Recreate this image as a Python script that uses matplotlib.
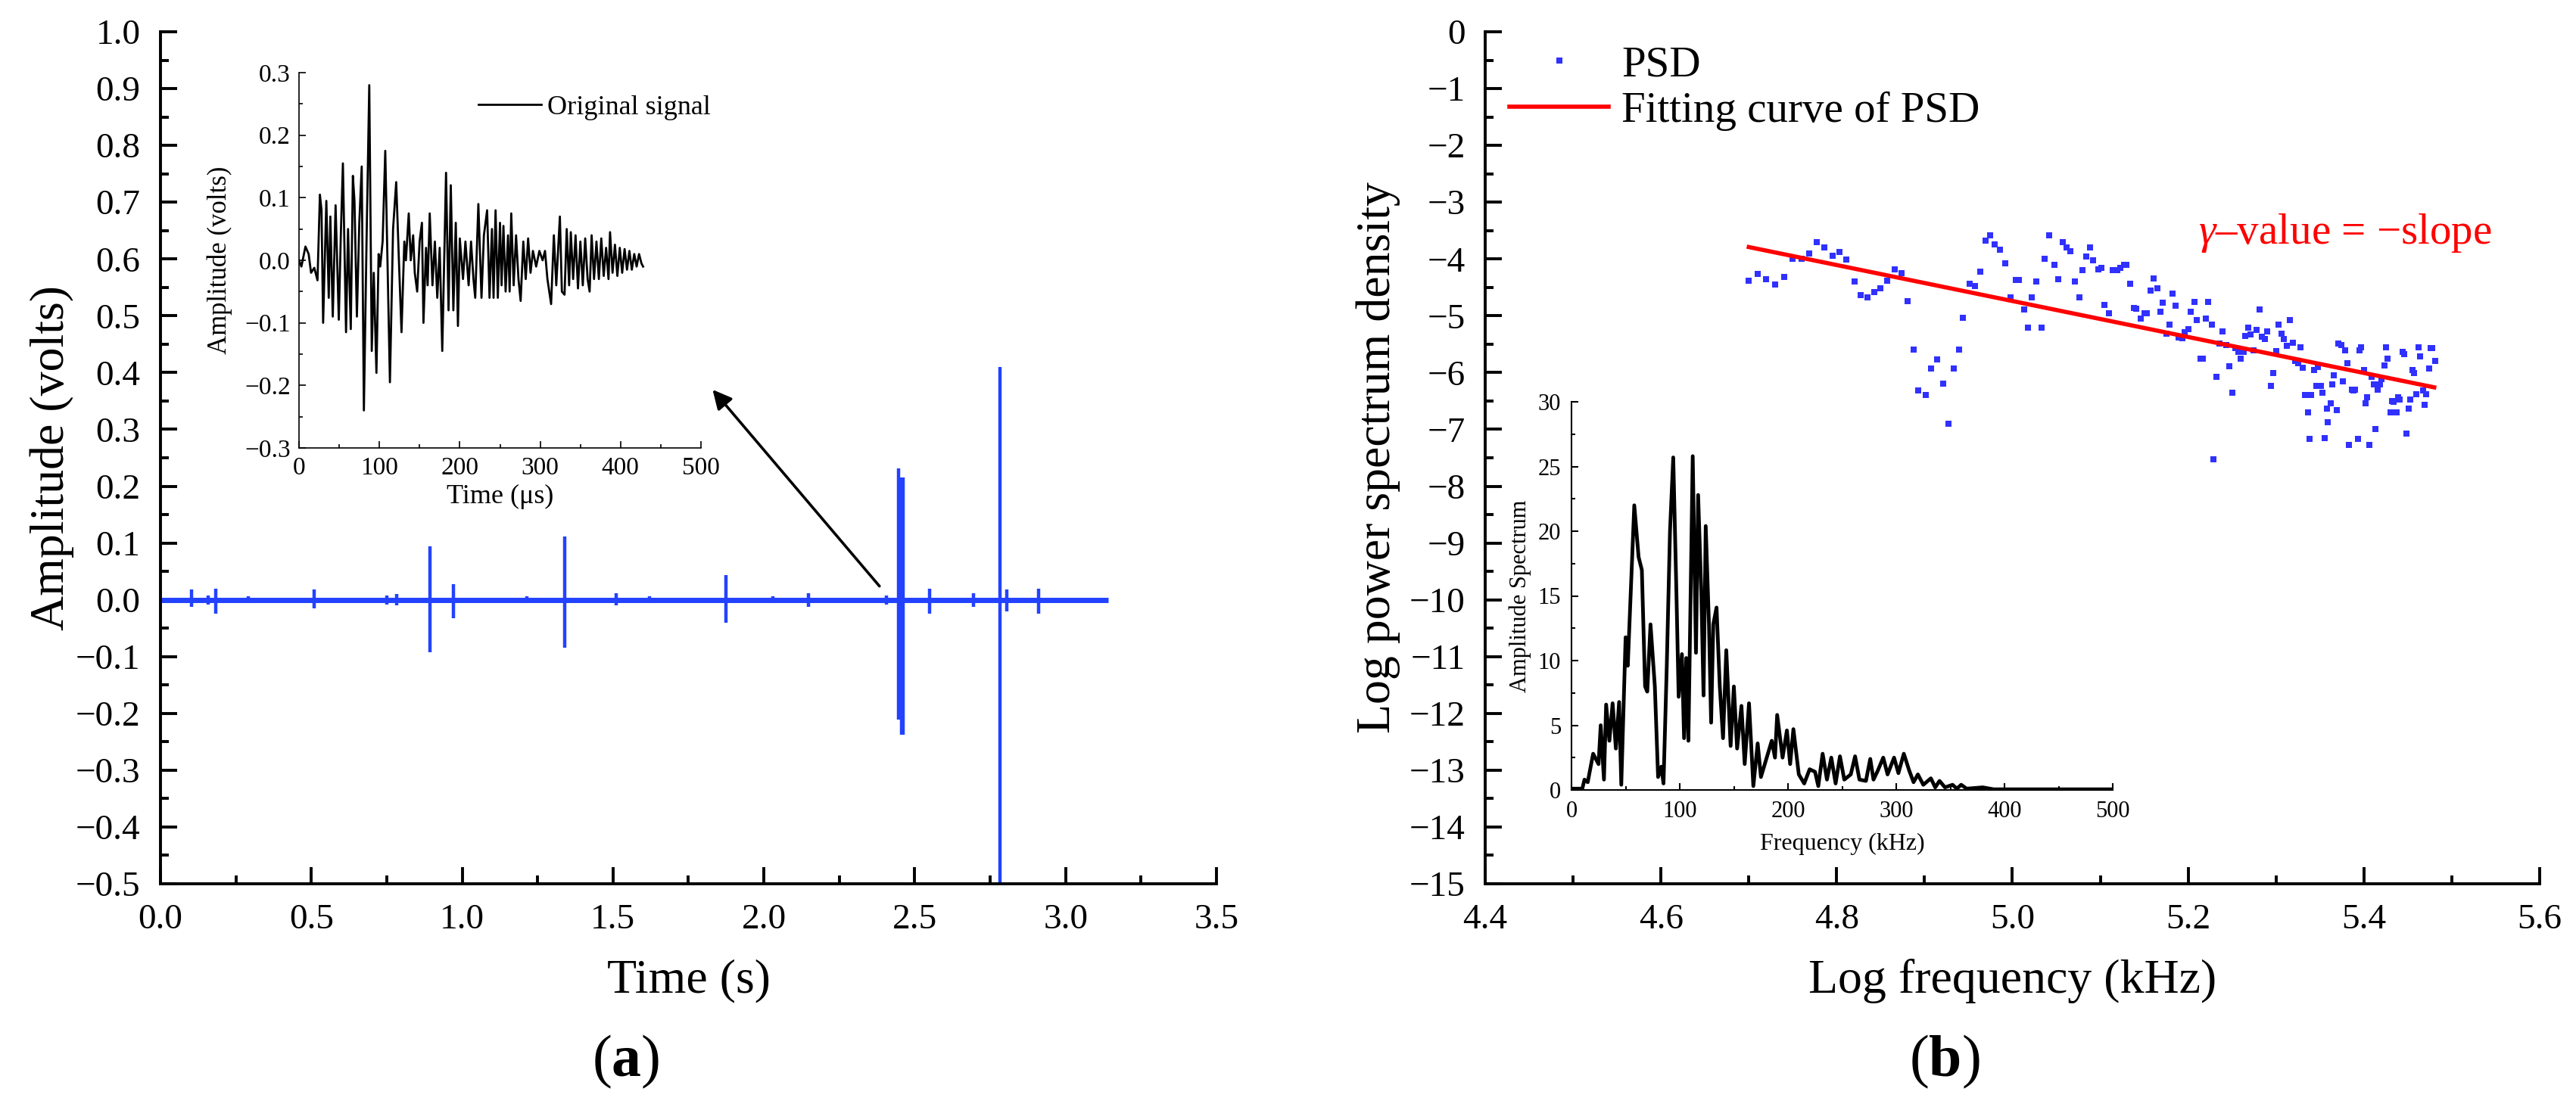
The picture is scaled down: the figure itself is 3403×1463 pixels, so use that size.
import numpy as np
import matplotlib
matplotlib.use('Agg')
import matplotlib.pyplot as plt
from matplotlib.ticker import MultipleLocator

plt.rcParams['font.family'] = ['Liberation Serif', 'DejaVu Serif']
plt.rcParams['mathtext.fontset'] = 'custom'
plt.rcParams['mathtext.rm'] = 'Liberation Serif'
plt.rcParams['mathtext.it'] = 'Liberation Serif:italic'
plt.rcParams['mathtext.bf'] = 'Liberation Serif:bold'
plt.rcParams['axes.unicode_minus'] = True

# ---------------- (a) main: AE signal bursts ----------------
signal_end = 3.14
burst_time = [0.104, 0.158, 0.183, 0.29, 0.51, 0.75, 0.784, 0.894, 0.97, 1.215,
              1.341, 1.51, 1.62, 1.875, 2.03, 2.147, 2.405, 2.447, 2.452, 2.457,
              2.462, 2.549, 2.695, 2.782, 2.805, 2.91]
burst_max = [0.018, 0.008, 0.020, 0.006, 0.018, 0.008, 0.010, 0.094, 0.027, 0.006,
             0.111, 0.012, 0.006, 0.043, 0.006, 0.012, 0.008, 0.231, 0.216, 0.216,
             0.216, 0.019, 0.012, 0.410, 0.018, 0.020]
burst_min = [-0.012, -0.008, -0.025, -0.006, -0.015, -0.008, -0.010, -0.092, -0.032, -0.006,
             -0.084, -0.010, -0.006, -0.041, -0.006, -0.012, -0.008, -0.211, -0.211, -0.237,
             -0.237, -0.025, -0.012, -0.550, -0.020, -0.025]

# ---------------- (a) inset: original waveform ----------------
wave_t = [0, 3, 8, 12, 15, 19, 23, 26, 28, 30, 34, 37, 39, 42, 45.5, 49.5, 52, 54.6, 58.5, 61,
          64.4, 67, 69, 72, 75, 78, 80.7, 84, 87.4, 90.5, 93, 96.3, 99, 101, 104, 107.3, 110,
          113.1, 117, 120.9, 124, 127.5, 131, 133, 136.5, 139, 142, 144, 147, 150, 152.9, 154.8,
          158, 160, 162.6, 166, 169, 172, 175, 178.2, 182.9, 186, 188.8, 192, 195, 197.7, 200,
          204, 207, 211, 214, 217, 219.2, 223.1, 227, 230, 234, 237, 240, 242, 244.5, 247.3, 250,
          252, 254.3, 257, 260, 262, 264, 267, 270, 273, 275.7, 279, 282, 285, 288, 291, 295, 299,
          303, 306, 309, 313.6, 317, 320, 324.5, 327, 330.3, 333, 336, 338.1, 341, 344, 347, 350,
          353, 356, 359, 361.5, 364, 367, 370, 373, 376, 379, 382, 385, 386.9, 390, 393, 396, 399,
          402, 405, 408, 411, 414, 417, 420, 423, 426, 428]
wave_v = [0.000, -0.010, 0.022, 0.010, -0.020, -0.012, -0.032, 0.105, 0.080, -0.100, 0.095,
          -0.060, 0.070, -0.090, 0.088, -0.095, 0.040, 0.155, -0.115, 0.050, -0.110, 0.135, 0.095,
          -0.090, 0.060, 0.150, -0.240, 0.030, 0.280, -0.145, -0.020, -0.180, 0.010, -0.010, 0.030,
          0.175, 0.000, -0.195, 0.050, 0.125, 0.010, -0.115, 0.030, 0.000, 0.075, 0.000, 0.040,
          -0.020, -0.050, 0.030, 0.060, -0.100, 0.020, -0.040, 0.075, -0.040, 0.030, -0.060, 0.020,
          -0.145, 0.140, -0.080, 0.120, -0.080, 0.060, -0.105, 0.035, -0.030, 0.030, -0.040, 0.030,
          -0.030, -0.060, 0.090, -0.060, 0.040, 0.080, -0.060, 0.050, -0.060, 0.080, -0.060, 0.060,
          -0.040, 0.055, -0.050, 0.040, -0.050, 0.075, -0.040, 0.040, -0.030, -0.065, 0.030, -0.030,
          0.035, -0.020, 0.015, -0.010, 0.015, 0.000, 0.015, -0.030, -0.070, 0.040, -0.040, 0.070,
          -0.050, -0.055, 0.050, -0.040, 0.045, -0.030, 0.040, -0.045, 0.030, -0.040, 0.035, -0.030,
          -0.050, 0.040, -0.030, 0.030, -0.030, 0.035, -0.025, 0.020, -0.030, 0.045, -0.020, 0.025,
          -0.025, 0.020, -0.020, 0.018, -0.015, 0.015, -0.015, 0.010, -0.010, 0.010, -0.005, -0.010]

# ---------------- (b) main: PSD scatter + fit ----------------
psd_x = [4.700, 4.710, 4.720, 4.730, 4.740, 4.750, 4.760, 4.769, 4.777, 4.786, 4.795, 4.803,
         4.811, 4.820, 4.827, 4.835, 4.843, 4.850, 4.857, 4.866, 4.874, 4.881, 4.888, 4.893,
         4.901, 4.907, 4.914, 4.921, 4.927, 4.933, 4.939, 4.944, 4.951, 4.957, 4.963, 4.969,
         4.975, 4.980, 4.986, 4.992, 4.998, 5.004, 5.007, 5.013, 5.018, 5.022, 5.027, 5.033,
         5.037, 5.042, 5.048, 5.052, 5.057, 5.062, 5.066, 5.071, 5.076, 5.080, 5.084, 5.088,
         5.092, 5.098, 5.101, 5.105, 5.110, 5.114, 5.119, 5.123, 5.127, 5.130, 5.134, 5.138,
         5.141, 5.146, 5.150, 5.153, 5.157, 5.161, 5.165, 5.168, 5.171, 5.175, 5.179, 5.182,
         5.186, 5.189, 5.193, 5.196, 5.200, 5.203, 5.207, 5.210, 5.214, 5.217, 5.220, 5.223,
         5.227, 5.229, 5.232, 5.236, 5.239, 5.243, 5.247, 5.250, 5.254, 5.257, 5.260, 5.263,
         5.265, 5.268, 5.271, 5.274, 5.278, 5.281, 5.284, 5.287, 5.290, 5.294, 5.297, 5.300,
         5.303, 5.306, 5.309, 5.312, 5.316, 5.319, 5.322, 5.325, 5.328, 5.330, 5.333, 5.336,
         5.338, 5.340, 5.343, 5.346, 5.348, 5.351, 5.353, 5.355, 5.358, 5.359, 5.362, 5.364,
         5.366, 5.369, 5.371, 5.374, 5.376, 5.379, 5.381, 5.383, 5.386, 5.388, 5.390, 5.393,
         5.395, 5.397, 5.400, 5.402, 5.404, 5.406, 5.409, 5.411, 5.413, 5.416, 5.418, 5.420,
         5.423, 5.425, 5.427, 5.430, 5.432, 5.434, 5.437, 5.439, 5.441, 5.444, 5.446, 5.448,
         5.451, 5.453, 5.455, 5.457, 5.460, 5.462, 5.464, 5.467, 5.469, 5.471, 5.474, 5.476,
         5.478, 5.481]
psd_y = [-4.38, -4.26, -4.36, -4.45, -4.31, -4.00, -4.00, -3.90, -3.70, -3.79, -3.94, -3.87,
         -4.01, -4.39, -4.64, -4.67, -4.58, -4.51, -4.38, -4.18, -4.25, -4.74, -5.59, -6.32,
         -6.40, -5.93, -5.77, -6.20, -6.90, -5.93, -5.59, -5.03, -4.44, -4.48, -4.22, -3.68,
         -3.58, -3.74, -3.83, -4.07, -4.68, -4.37, -4.37, -4.89, -5.21, -4.67, -4.39, -5.21,
         -4.00, -3.58, -4.10, -4.36, -3.70, -3.80, -3.86, -4.40, -4.67, -4.20, -3.96, -3.79,
         -4.02, -4.18, -4.16, -4.81, -4.95, -4.20, -4.20, -4.16, -4.10, -4.10, -4.43, -4.86,
         -4.87, -5.05, -4.95, -4.95, -4.56, -4.34, -4.52, -4.93, -4.77, -5.32, -5.15, -4.61,
         -4.82, -5.38, -5.39, -5.29, -5.23, -4.93, -4.76, -5.07, -5.75, -5.75, -5.05, -4.76,
         -5.15, -7.52, -6.08, -5.49, -5.27, -5.51, -5.89, -6.36, -5.57, -5.63, -5.75, -5.63,
         -5.35, -5.21, -5.33, -5.61, -5.25, -4.89, -5.37, -5.41, -5.27, -6.23, -6.01, -5.62,
         -5.15, -5.31, -5.41, -5.53, -5.07, -5.47, -5.79, -5.84, -5.56, -5.92, -6.39, -6.70,
         -7.17, -6.39, -5.96, -6.23, -5.90, -6.24, -6.36, -7.15, -6.63, -6.87, -6.54, -6.21,
         -6.05, -6.66, -5.49, -5.51, -6.15, -5.61, -5.83, -7.27, -6.30, -6.32, -6.30, -7.17,
         -5.61, -5.55, -5.95, -6.54, -6.44, -7.27, -6.08, -6.21, -6.99, -6.30, -6.21, -6.12,
         -5.87, -5.56, -5.75, -6.70, -6.50, -6.51, -6.70, -6.44, -6.48, -5.63, -5.67, -7.08,
         -6.63, -6.48, -5.96, -6.01, -6.38, -5.56, -5.71, -6.32, -6.57, -6.38, -5.93, -5.57,
         -5.57, -5.80]
fit_x = [4.70, 5.48]
fit_y = [-3.79, -6.26]

# ---------------- (b) inset: amplitude spectrum ----------------
spec_f = [0, 5, 10, 12, 15, 20, 25, 27, 30, 32, 35, 38, 41, 44, 46, 50, 52, 55, 58, 62, 65, 68,
          70, 73, 77, 80, 83, 85, 88, 91, 94, 97, 99, 102, 104, 106, 108, 112, 115, 117, 120, 122,
          124, 127, 129, 131, 134, 137, 140, 143, 147, 150, 153, 157, 160, 164, 168, 172, 175, 180,
          185, 188, 190, 195, 199, 202, 205, 210, 215, 220, 225, 228, 232, 236, 240, 244, 248, 252,
          258, 262, 266, 272, 276, 279, 283, 288, 292, 298, 302, 307, 312, 316, 320, 325, 332, 336,
          340, 345, 352, 356, 360, 365, 380, 390, 500]
spec_a = [0.1, 0.1, 0.1, 0.8, 0.6, 2.8, 2.0, 5.0, 0.8, 6.6, 3.8, 6.7, 3.2, 6.8, 0.4, 11.8, 9.6,
          15.8, 22.0, 18.0, 17.0, 8.0, 7.6, 12.8, 8.0, 1.0, 1.8, 0.5, 9.5, 20.0, 25.7, 15.0, 7.2,
          10.5, 4.0, 10.2, 3.8, 25.8, 10.6, 22.8, 15.0, 7.3, 20.4, 12.8, 5.2, 12.8, 14.1, 8.0, 4.0,
          10.8, 3.4, 8.0, 3.2, 6.5, 2.0, 6.7, 0.3, 3.6, 1.0, 2.4, 3.8, 2.5, 5.8, 2.5, 4.6, 2.0, 4.7,
          1.2, 0.5, 1.6, 1.4, 0.3, 2.8, 0.8, 2.5, 0.5, 2.6, 0.8, 1.2, 2.6, 0.8, 0.7, 2.4, 0.8, 1.5,
          2.5, 1.2, 2.5, 1.3, 2.8, 1.5, 0.6, 1.2, 0.4, 0.9, 0.2, 0.7, 0.2, 0.4, 0.1, 0.4, 0.1, 0.2,
          0.05, 0.05]

SIG_BLUE = '#2342ff'
PSD_BLUE = '#3030ff'

W, H = 3403, 1463
fig = plt.figure(figsize=(W / 100, H / 100), dpi=100)


def style(ax, lw, labelsize, major, minor, pad):
    for s in ['top', 'right']:
        ax.spines[s].set_visible(False)
    for s in ['left', 'bottom']:
        ax.spines[s].set_linewidth(lw)
    ax.tick_params(which='both', direction='in', width=lw, labelsize=labelsize, pad=pad)
    ax.tick_params(which='major', length=major)
    ax.tick_params(which='minor', length=minor)


def frac(x0, y0, x1, y1):
    return [x0 / W, 1 - y1 / H, (x1 - x0) / W, (y1 - y0) / H]


# ---------- panel (a) ----------
ax1 = fig.add_axes(frac(212, 42, 1607, 1168))
ax1.plot([0, signal_end], [0, 0], color=SIG_BLUE, lw=5, solid_capstyle='butt')
ax1.vlines(burst_time, burst_min, burst_max, color=SIG_BLUE, lw=3.2)
ax1.set_xlim(0, 3.5)
ax1.set_ylim(-0.5, 1.0)
ax1.xaxis.set_major_locator(MultipleLocator(0.5))
ax1.xaxis.set_minor_locator(MultipleLocator(0.25))
ax1.yaxis.set_major_locator(MultipleLocator(0.1))
ax1.yaxis.set_minor_locator(MultipleLocator(0.05))
style(ax1, 2.8, 34, 16, 8, 19)
ax1.set_xlabel('Time (s)', fontsize=46)
ax1.set_ylabel('Amplitude (volts)', fontsize=46)
ax1.xaxis.set_label_coords(0.5, -0.088)
ax1.yaxis.set_label_coords(-0.082, 0.5)
ax1.annotate('', xy=(1.83, 0.37), xytext=(2.383, 0.024),
             arrowprops=dict(arrowstyle='-|>', color='black', lw=2.6, mutation_scale=38,
                             shrinkA=0, shrinkB=0))

ax1i = fig.add_axes(frac(395, 96, 926, 592))
ax1i.set_facecolor('none')
ax1i.plot(wave_t, wave_v, color='black', lw=2.0, label='Original signal')
ax1i.set_xlim(0, 500)
ax1i.set_ylim(-0.3, 0.3)
ax1i.xaxis.set_major_locator(MultipleLocator(100))
ax1i.xaxis.set_minor_locator(MultipleLocator(50))
ax1i.yaxis.set_major_locator(MultipleLocator(0.1))
ax1i.yaxis.set_minor_locator(MultipleLocator(0.05))
style(ax1i, 1.2, 24, 6.5, 3.5, 8)
ax1i.set_xlabel('Time (μs)', fontsize=26)
ax1i.set_ylabel('Amplitude (volts)', fontsize=25)
ax1i.xaxis.set_label_coords(0.5, -0.097)
ax1i.yaxis.set_label_coords(-0.165, 0.5)
ax1i.legend(loc='upper left', bbox_to_anchor=(0.446, 0.94), frameon=False, fontsize=26,
            handlelength=2.3, handletextpad=0.22, borderpad=0, borderaxespad=0)

# ---------- panel (b) ----------
ax2 = fig.add_axes(frac(1962, 42, 3355, 1168))
ax2.plot(psd_x, psd_y, 's', ms=5.6, color=PSD_BLUE, mew=0, label='PSD')
ax2.plot(fit_x, fit_y, color='red', lw=4, label='Fitting curve of PSD')
ax2.set_xlim(4.4, 5.6)
ax2.set_ylim(-15, 0)
ax2.xaxis.set_major_locator(MultipleLocator(0.2))
ax2.xaxis.set_minor_locator(MultipleLocator(0.1))
ax2.yaxis.set_major_locator(MultipleLocator(1))
ax2.yaxis.set_minor_locator(MultipleLocator(0.5))
style(ax2, 2.8, 34, 16, 8, 19)
ax2.set_xlabel('Log frequency (kHz)', fontsize=46)
ax2.set_ylabel('Log power spectrum density', fontsize=46)
ax2.xaxis.set_label_coords(0.5, -0.088)
ax2.yaxis.set_label_coords(-0.0806, 0.5)
ax2.legend(loc='upper left', bbox_to_anchor=(0.023, 0.984), frameon=False, fontsize=41,
           handlelength=2.3, handletextpad=0.3, borderpad=0, borderaxespad=0,
           labelspacing=0.15, numpoints=1)
ax2.text(5.378, -3.55, r'$\gamma$–value = −slope', color='red', fontsize=41,
         ha='center', va='center')

ax2i = fig.add_axes(frac(2076, 531, 2791, 1044))
ax2i.set_facecolor('none')
ax2i.plot(spec_f, spec_a, color='black', lw=3.5)
ax2i.set_xlim(0, 500)
ax2i.set_ylim(0, 30)
ax2i.xaxis.set_major_locator(MultipleLocator(100))
ax2i.xaxis.set_minor_locator(MultipleLocator(50))
ax2i.yaxis.set_major_locator(MultipleLocator(5))
ax2i.yaxis.set_minor_locator(MultipleLocator(2.5))
style(ax2i, 1.5, 22, 6.5, 3.5, 10)
ax2i.set_xlabel('Frequency (kHz)', fontsize=23, labelpad=10)
ax2i.set_ylabel('Amplitude Spectrum', fontsize=22, labelpad=6)

# ---------- panel letters ----------
fig.text(0.243, 0.041, r'($\mathbf{a}$)', fontsize=56, ha='center', va='center')
fig.text(0.755, 0.041, r'($\mathbf{b}$)', fontsize=56, ha='center', va='center')

fig.savefig('out.png', dpi=100)
